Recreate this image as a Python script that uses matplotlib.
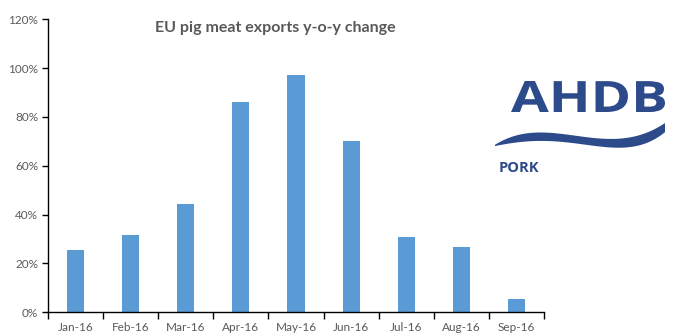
import numpy as np
import matplotlib.pyplot as plt
from matplotlib.patches import Polygon, PathPatch
from matplotlib.textpath import TextPath
from matplotlib.font_manager import FontProperties
from matplotlib.transforms import Affine2D
from matplotlib.ticker import FuncFormatter

# ---------- data ----------
months = ['Jan-16', 'Feb-16', 'Mar-16', 'Apr-16', 'May-16',
          'Jun-16', 'Jul-16', 'Aug-16', 'Sep-16']
yoy_change = [25.4, 31.6, 44.3, 86.2, 97.2, 70.2, 30.8, 26.7, 5.3]   # %

# ---------- style ----------
BAR_COLOR = '#5B9BD5'
TEXT_GREY = '#595959'
LOGO_BLUE = '#2d4a8a'
W, H = 700, 336
plt.rcParams['font.family'] = ['Lato', 'DejaVu Sans']

fig = plt.figure(figsize=(7, 3.36), dpi=100)
ax = fig.add_axes([0.0686, 0.0714, 0.7086, 0.8706])

x = np.arange(len(months))
ax.bar(x, yoy_change, width=0.31, color=BAR_COLOR, zorder=2)

ax.set_xlim(-0.5, len(months) - 0.5)
ax.set_ylim(0, 120)
ax.set_yticks(np.arange(0, 121, 20))
ax.yaxis.set_major_formatter(FuncFormatter(lambda v, p: f'{v:.0f}%'))
ax.set_xticks(x)
ax.set_xticklabels(months)
ax.set_xticks(np.arange(-0.5, len(months)), minor=True)

for s in ['top', 'right']:
    ax.spines[s].set_visible(False)
for s in ['left', 'bottom']:
    ax.spines[s].set_color('black')
    ax.spines[s].set_linewidth(1.0)

ax.tick_params(axis='x', which='major', length=0, pad=7, labelsize=8.5, labelcolor=TEXT_GREY)
ax.tick_params(axis='x', which='minor', length=5, width=1, color='black', direction='out')
ax.tick_params(axis='y', length=4, width=1, color='black', direction='out',
               labelsize=8.5, labelcolor=TEXT_GREY, pad=3)

fig.text(0.393, 0.918, 'EU pig meat exports y-o-y change', ha='center', va='center',
         fontsize=11.5, fontweight='bold', color=TEXT_GREY)

# ---------- AHDB logo ----------
# letters stretched into a pixel box (x0, x1, top, bottom)
tp = TextPath((0, 0), 'AHDB', size=1,
              prop=FontProperties(family='Open Sans', weight='bold'))
ext = tp.get_extents()
bx0, bx1, btop, bbot = 511, 665, 81, 112
tr = (Affine2D().translate(-ext.x0, -ext.y0)
      .scale((bx1 - bx0) / ext.width, (bbot - btop) / ext.height)
      .translate(bx0, H - bbot)
      .scale(1 / W, 1 / H))
fig.patches.append(PathPatch(tr.transform_path(tp), transform=fig.transFigure,
                             facecolor=LOGO_BLUE, edgecolor='none'))

fig.text(0.713, 0.5, 'PORK', ha='left', va='center', fontsize=10.5,
         color=LOGO_BLUE, fontweight='bold', family=['Open Sans', 'DejaVu Sans'])

# swoosh under the letters, traced in pixel coords
up_x = [495, 510, 540, 573, 607, 640, 665]
up_y = [145, 137, 133, 135, 139, 135, 123]
lo_x = [495, 523, 557, 590, 623, 650, 665]
lo_y = [146, 142, 141, 146, 147, 142, 132]
xx = np.linspace(495, 665, 80)
upper = np.polyval(np.polyfit(up_x, up_y, 4), xx)
lower = np.polyval(np.polyfit(lo_x, lo_y, 4), xx)
lower = np.maximum(lower, upper + 0.5)
pts = np.vstack([np.column_stack([xx, upper]),
                 np.column_stack([xx[::-1], lower[::-1]])])
pts_fig = np.column_stack([pts[:, 0] / W, 1 - pts[:, 1] / H])
fig.patches.append(Polygon(pts_fig, closed=True, transform=fig.transFigure,
                           facecolor=LOGO_BLUE, edgecolor='none'))

fig.savefig('out.png', dpi=100, facecolor='white')
